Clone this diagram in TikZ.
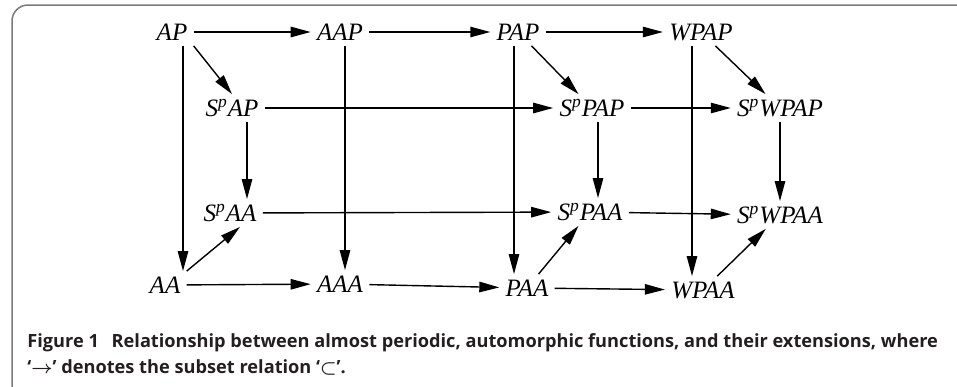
\documentclass[tikz,border=0pt]{standalone}
\usepackage{fontspec}
\setmainfont{Liberation Serif}
\newfontfamily\capfont{Open Sans}
\usepackage{xcolor}
\usetikzlibrary{arrows.meta}
\definecolor{frameGray}{HTML}{7A7A7A}
\definecolor{capBlack}{HTML}{231F20}
\newcommand{\Sp}{S\textsuperscript{p}}

\begin{document}
\begin{tikzpicture}[x=0.5pt,y=-0.5pt,
    set/.style={font=\fontsize{12.5pt}{14pt}\selectfont\itshape,
      inner xsep=3pt, inner ysep=2pt, text height=9pt, text depth=0.5pt},
    sub/.style={-{Triangle[length=10pt,width=5.2pt]}, line width=0.7pt},
    capline/.style={anchor=base west, inner sep=0pt, text=capBlack,
      font=\capfont\bfseries\boldmath\fontsize{9.1pt}{13pt}\selectfont}]
    \useasboundingbox (0,0) rectangle (957,386);
    \clip (0,0) rectangle (957,386);
    \draw[frameGray, line width=0.75pt, rounded corners=8pt] (12,5) rectangle (975,400);

    % top row
    \node[set] (AP)   at (172,32) {AP};
    \node[set] (AAP)  at (340,32) {AAP};
    \node[set] (PAP)  at (518,32) {PAP};
    \node[set] (WPAP) at (701,32) {WPAP};
    % Stepanov rows
    \node[set] (SpAP)   at (232,108) {\Sp AP};
    \node[set] (SpPAP)  at (592,108) {\Sp PAP};
    \node[set] (SpWPAP) at (780,108) {\Sp WPAP};
    \node[set] (SpAA)   at (230,213) {\Sp AA};
    \node[set] (SpPAA)  at (590,212) {\Sp PAA};
    \node[set] (SpWPAA) at (780,215) {\Sp WPAA};
    % bottom row
    \node[set] (AA)   at (165,285) {AA};
    \node[set] (AAA)  at (340,284) {AAA};
    \node[set] (PAA)  at (527,288) {PAA};
    \node[set] (WPAA) at (703,290) {WPAA};

    \draw[sub] (AP) -- (AAP);
    \draw[sub] (AAP) -- (PAP);
    \draw[sub] (PAP) -- (WPAP);
    \draw[sub] (SpAP) -- (SpPAP);
    \draw[sub] (SpPAP) -- (SpWPAP);
    \draw[sub] (SpAA) -- (SpPAA);
    \draw[sub] (SpPAA) -- (SpWPAA);
    \draw[sub] (AA) -- (AAA);
    \draw[sub] (AAA) -- (PAA);
    \draw[sub] (PAA) -- (WPAA);

    \draw[sub] ([xshift=5.5pt]AP.south) -- ([xshift=5.5pt]AP.south |- AA.north);
    \draw[sub] ([xshift=2.5pt]AAP.south) -- ([xshift=2.5pt]AAP.south |- AAA.north);
    \draw[sub] ([xshift=-2pt]PAP.south) -- ([xshift=-2pt]PAP.south |- PAA.north);
    \draw[sub] ([xshift=-4.5pt]WPAP.south) -- ([xshift=-4.5pt]WPAP.south |- WPAA.north);
    \draw[sub] ([xshift=7.5pt]SpAP.south) -- ([xshift=7.5pt]SpAP.south |- SpAA.north);
    \draw[sub] ([xshift=3pt]SpPAP.south) -- ([xshift=3pt]SpPAP.south |- SpPAA.north);
    \draw[sub] (SpWPAP.south) -- (SpWPAP.south |- SpWPAA.north);

    \draw[sub] (AP.south east) -- (SpAP.north);
    \draw[sub] (PAP) -- (SpPAP);
    \draw[sub] (WPAP) -- (SpWPAP);
    \draw[sub] (AA.north east) -- ([xshift=5pt]SpAA.south);
    \draw[sub] (PAA) -- (SpPAA);
    \draw[sub] (WPAA) -- (SpWPAA);

    \node[capline] (capA) at (27,347) {Figure 1\hspace{0.7em}Relationship between almost periodic, automorphic functions, and their extensions, where};
    \node[capline] (capB) at (27,373) {‘$\rightarrow$’ denotes the subset relation ‘$\subset$’.};
\end{tikzpicture}
\end{document}
